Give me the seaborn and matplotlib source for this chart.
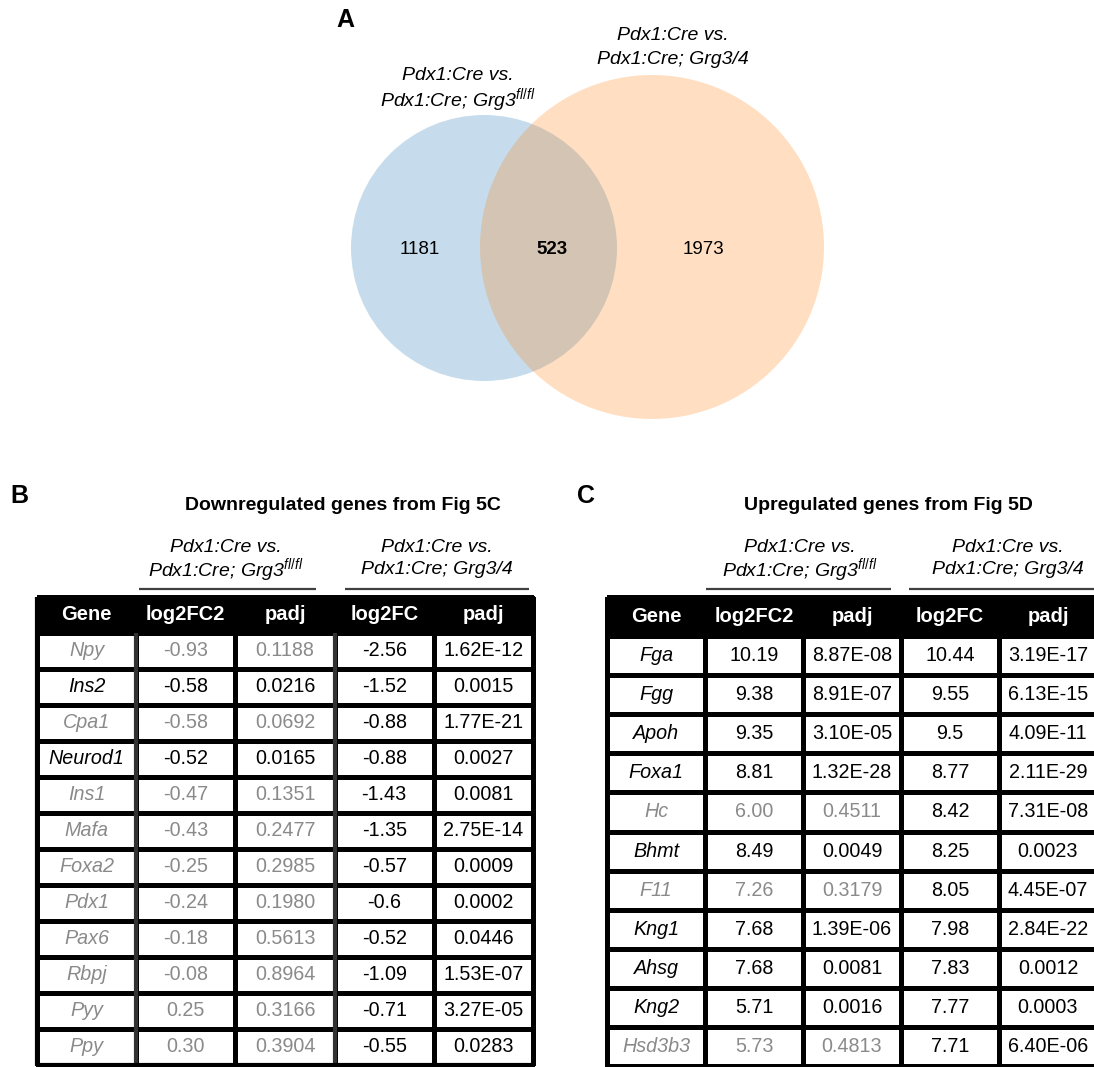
import matplotlib
matplotlib.use("Agg")
import matplotlib.pyplot as plt
import seaborn as sns
import numpy as np
from matplotlib.colors import ListedColormap
from matplotlib.patches import Circle

# ---- data ----
# Venn counts
only_grg3 = 1181
shared = 523
only_grg34 = 1973
comp1_label = ["Pdx1:Cre vs.", "Pdx1:Cre; Grg3$^{fl/fl}$"]
comp2_label = ["Pdx1:Cre vs.", "Pdx1:Cre; Grg3/4"]

header = ["Gene", "log2FC2", "padj", "log2FC", "padj"]

# B: downregulated genes (Fig 5C)
down_title = "Downregulated genes from Fig 5C"
down_genes = ["Npy", "Ins2", "Cpa1", "Neurod1", "Ins1", "Mafa", "Foxa2",
              "Pdx1", "Pax6", "Rbpj", "Pyy", "Ppy"]
down_fc1 = ["-0.93", "-0.58", "-0.58", "-0.52", "-0.47", "-0.43", "-0.25",
            "-0.24", "-0.18", "-0.08", "0.25", "0.30"]
down_padj1 = ["0.1188", "0.0216", "0.0692", "0.0165", "0.1351", "0.2477",
              "0.2985", "0.1980", "0.5613", "0.8964", "0.3166", "0.3904"]
down_fc2 = ["-2.56", "-1.52", "-0.88", "-0.88", "-1.43", "-1.35", "-0.57",
            "-0.6", "-0.52", "-1.09", "-0.71", "-0.55"]
down_padj2 = ["1.62E-12", "0.0015", "1.77E-21", "0.0027", "0.0081", "2.75E-14",
              "0.0009", "0.0002", "0.0446", "1.53E-07", "3.27E-05", "0.0283"]

# C: upregulated genes (Fig 5D)
up_title = "Upregulated genes from Fig 5D"
up_genes = ["Fga", "Fgg", "Apoh", "Foxa1", "Hc", "Bhmt", "F11", "Kng1",
            "Ahsg", "Kng2", "Hsd3b3"]
up_fc1 = ["10.19", "9.38", "9.35", "8.81", "6.00", "8.49", "7.26", "7.68",
          "7.68", "5.71", "5.73"]
up_padj1 = ["8.87E-08", "8.91E-07", "3.10E-05", "1.32E-28", "0.4511", "0.0049",
            "0.3179", "1.39E-06", "0.0081", "0.0016", "0.4813"]
up_fc2 = ["10.44", "9.55", "9.5", "8.77", "8.42", "8.25", "8.05", "7.98",
          "7.83", "7.77", "7.71"]
up_padj2 = ["3.19E-17", "6.13E-15", "4.09E-11", "2.11E-29", "7.31E-08", "0.0023",
            "4.45E-07", "2.84E-22", "0.0012", "0.0003", "6.40E-06"]

# ---- style ----
sns.set_theme(style="white")
plt.rcParams['font.family'] = ['Liberation Sans', 'DejaVu Sans']
plt.rcParams['text.color'] = 'black'
plt.rcParams['mathtext.fontset'] = 'custom'
plt.rcParams['mathtext.it'] = 'Liberation Sans:italic'
plt.rcParams['mathtext.rm'] = 'Liberation Sans'
plt.rcParams['mathtext.bf'] = 'Liberation Sans:bold'

GRAY = "#8a8a8a"
W, H = 1094, 1067


def rect(x0, y0, x1, y1):
    return [x0 / W, 1 - y1 / H, (x1 - x0) / W, (y1 - y0) / H]


fig = plt.figure(figsize=(W / 100, H / 100), dpi=100)

# background axes in pixel units for Venn and labels
bg = fig.add_axes([0, 0, 1, 1])
bg.set_xlim(0, W)
bg.set_ylim(H, 0)
bg.axis("off")

# ---- A: Venn ----
blue, orange = sns.color_palette("tab10")[:2]
bg.add_patch(Circle((484, 248), 133, color=blue, alpha=0.25, lw=0))
bg.add_patch(Circle((652, 247), 172, color=orange, alpha=0.25, lw=0))
bg.text(420, 250, str(only_grg3), ha="center", va="center", fontsize=13.5)
bg.text(552, 250, str(shared), ha="center", va="center", fontsize=13.5, fontweight="bold")
bg.text(703, 250, str(only_grg34), ha="center", va="center", fontsize=13.5)
for k, line in enumerate(comp1_label):
    bg.text(458, 76 + 24 * k, line, ha="center", va="center", fontsize=14, style="italic")
for k, line in enumerate(comp2_label):
    bg.text(673, 35 + 24 * k, line, ha="center", va="center", fontsize=14, style="italic")

bg.text(345, 20, "A", ha="center", va="center", fontsize=18, fontweight="bold")
bg.text(19, 496, "B", ha="center", va="center", fontsize=18, fontweight="bold")
bg.text(586, 496, "C", ha="center", va="center", fontsize=18, fontweight="bold")


def draw_table(x0, x1, y0, y1, genes, fc1, p1, fc2, p2, thick_cols):
    ax = fig.add_axes(rect(x0, y0, x1, y1))
    n = len(genes)
    shade = np.zeros((n + 1, len(header)))
    shade[0, :] = 1
    sns.heatmap(shade, ax=ax, cmap=ListedColormap(["white", "black"]), vmin=0, vmax=1,
                cbar=False, linewidths=2.3, linecolor="black",
                xticklabels=False, yticklabels=False)
    ax.collections[0].set_clip_on(False)
    for j, h in enumerate(header):
        ax.text(j + 0.5, 0.5, h, ha="center", va="center", color="white",
                fontsize=14.5, fontweight="bold")
    for i in range(n):
        c1 = "black" if float(p1[i]) < 0.05 else GRAY
        c2 = "black" if float(p2[i]) < 0.05 else GRAY
        row = [genes[i], fc1[i], p1[i], fc2[i], p2[i]]
        cols = [c1, c1, c1, c2, c2]
        for j, val in enumerate(row):
            ax.text(j + 0.5, i + 1.5, val, ha="center", va="center", color=cols[j],
                    fontsize=14.2, style="italic" if j == 0 else "normal")
    if thick_cols:
        ax.vlines(thick_cols, 1, n + 1, colors="#333333", linewidth=3)
        ax.vlines([0], 0, n + 1, colors="black", linewidth=3, clip_on=False)
        ax.hlines([n + 1], 0, len(header), colors="black", linewidth=3, clip_on=False)
    return ax


def sub_header(cx, x0, x1, lines):
    for k, line in enumerate(lines):
        bg.text(cx, 548 + 22 * k, line, ha="center", va="center", fontsize=14, style="italic")
    bg.plot([x0, x1], [589, 589], color="#404040", lw=1.6, solid_capstyle="butt")


# ---- B ----
bg.text(343, 506, down_title, ha="center", va="center", fontsize=14, fontweight="bold")
sub_header(226, 139, 316, comp1_label)
sub_header(437, 345, 529, comp2_label)
draw_table(37, 533, 597, 1065, down_genes, down_fc1, down_padj1, down_fc2, down_padj2, [1, 3])

# ---- C ----
bg.text(888, 506, up_title, ha="center", va="center", fontsize=14, fontweight="bold")
sub_header(800, 706, 891, comp1_label)
sub_header(1008, 909, 1100, comp2_label)
draw_table(607, 1097, 597, 1066, up_genes, up_fc1, up_padj1, up_fc2, up_padj2, None)

fig.savefig("out.png", dpi=100)
